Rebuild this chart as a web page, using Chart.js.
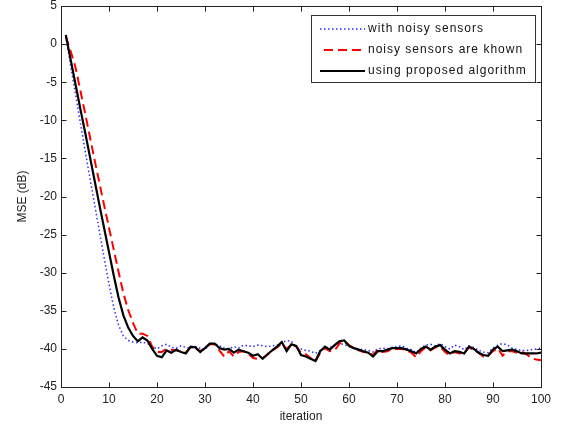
<!DOCTYPE html>
<html>
<head>
<meta charset="utf-8">
<script src="https://cdn.jsdelivr.net/npm/chart.js@4"></script>
<style>
  body { margin: 0; background: #fff; }
  #wrap { width: 564px; height: 430px; }
</style>
</head>
<body>
<div id="wrap"><canvas id="mse"></canvas></div>
<script>
/* ------------------
  data
-------------------*/
var iterations = [1,2,3,4,5,6,7,8,9,10,11,12,13,14,15,16,17,18,19,20,
  21,22,23,24,25,26,27,28,29,30,31,32,33,34,35,36,37,38,39,40,
  41,42,43,44,45,46,47,48,49,50,51,52,53,54,55,56,57,58,59,60,
  61,62,63,64,65,66,67,68,69,70,71,72,73,74,75,76,77,78,79,80,
  81,82,83,84,85,86,87,88,89,90,91,92,93,94,95,96,97,98,99,100];

var noisySensors = [1.0,-2.8,-6.5,-10.2,-13.9,-17.5,-21.0,-24.6,-28.1,-31.5,
  -34.6,-36.9,-38.3,-38.9,-39.1,-39.2,-39.1,-39.3,-39.7,-40.0,
  -39.6,-39.4,-39.8,-39.9,-39.6,-39.8,-39.9,-39.7,-39.9,-40.1,
  -39.4,-39.3,-39.6,-39.9,-40.0,-39.7,-39.9,-39.5,-39.6,-39.7,
  -39.5,-39.6,-39.7,-39.6,-39.5,-39.2,-38.9,-39.0,-39.8,-40.0,
  -40.2,-40.3,-40.6,-40.2,-39.9,-39.8,-39.6,-39.3,-39.4,-39.7,
  -39.9,-40.0,-40.1,-40.2,-40.4,-40.0,-39.9,-40.0,-39.8,-39.7,
  -39.6,-39.9,-40.1,-40.5,-39.9,-39.5,-39.4,-39.6,-39.3,-39.7,
  -40.0,-39.5,-39.7,-40.1,-39.6,-39.8,-40.2,-40.4,-40.5,-39.9,
  -39.5,-39.3,-39.5,-39.9,-40.1,-40.2,-40.2,-40.1,-40.0,-39.9];

var knownSensors = [1.0,-0.9,-3.0,-6.0,-9.0,-12.1,-15.2,-18.2,-21.2,-24.1,
  -27.0,-29.9,-32.7,-34.9,-36.6,-38.0,-38.0,-38.3,-39.7,-40.4,
  -40.4,-40.0,-40.1,-40.2,-40.3,-40.5,-39.8,-39.9,-40.3,-39.9,
  -39.4,-39.4,-40.2,-41.0,-40.3,-41.0,-40.4,-40.3,-40.6,-41.2,
  -41.3,-41.2,-40.8,-40.2,-39.8,-39.3,-40.0,-39.4,-39.7,-40.5,
  -40.7,-41.2,-41.7,-40.5,-39.9,-40.3,-40.2,-39.3,-39.0,-39.5,
  -39.9,-40.2,-40.4,-40.5,-40.8,-40.1,-40.4,-40.3,-40.0,-40.0,
  -40.0,-40.2,-40.5,-41.1,-40.3,-39.8,-40.2,-39.8,-39.7,-40.4,
  -40.8,-40.4,-40.6,-40.5,-39.8,-40.2,-40.5,-41.0,-40.8,-40.3,
  -39.9,-40.9,-40.3,-40.3,-40.5,-40.4,-40.7,-41.2,-41.4,-41.5];

var proposedAlg = [1.2,-2.0,-5.2,-8.4,-11.5,-14.7,-17.9,-21.1,-24.2,-27.3,
  -30.4,-33.3,-35.6,-37.2,-38.3,-39.0,-38.5,-38.9,-40.0,-40.9,
  -41.1,-40.2,-40.5,-40.1,-40.4,-40.6,-39.7,-39.8,-40.4,-39.9,
  -39.3,-39.3,-39.9,-40.1,-40.0,-40.5,-40.1,-40.3,-40.5,-40.9,
  -40.7,-41.3,-40.7,-40.2,-39.7,-39.1,-40.3,-39.4,-39.6,-40.8,
  -41.0,-41.3,-41.6,-40.3,-39.7,-40.1,-39.5,-39.0,-38.9,-39.6,
  -39.9,-40.1,-40.3,-40.5,-41.0,-40.3,-40.3,-40.1,-39.9,-39.9,
  -39.9,-40.1,-40.3,-40.6,-40.0,-39.7,-40.1,-39.7,-39.5,-40.1,
  -40.6,-40.3,-40.4,-40.6,-39.7,-40.0,-40.5,-40.8,-40.9,-40.1,
  -39.7,-40.3,-40.2,-40.1,-40.3,-40.6,-40.6,-40.6,-40.6,-40.5];

var seriesNames = ['with noisy sensors', 'noisy sensors are khown', 'using proposed algorithm'];
var xTicks = [0,10,20,30,40,50,60,70,80,90,100];
var yTicks = [-45,-40,-35,-30,-25,-20,-15,-10,-5,0,5];

function toPoints(vals) {
  return vals.map(function (v, i) { return { x: iterations[i], y: v }; });
}

/* ------------------
  matlab-ish box, inward ticks and legend
-------------------*/
var matlabBox = {
  id: 'matlabBox',
  afterDraw: function (chart) {
    var ctx = chart.ctx;
    var a = chart.chartArea;
    var xs = chart.scales.x, ys = chart.scales.y;
    var L = Math.round(a.left) + 0.5, R = Math.round(a.right) + 0.5;
    var T = Math.round(a.top) + 0.5, B = Math.round(a.bottom) + 0.5;
    ctx.save();
    ctx.strokeStyle = '#222';
    ctx.lineWidth = 1;
    ctx.strokeRect(L, T, R - L, B - T);
    ctx.beginPath();
    xTicks.forEach(function (t) {
      var px = Math.round(xs.getPixelForValue(t)) + 0.5;
      ctx.moveTo(px, B); ctx.lineTo(px, B - 5);
      ctx.moveTo(px, T); ctx.lineTo(px, T + 5);
    });
    yTicks.forEach(function (t) {
      var py = Math.round(ys.getPixelForValue(t)) + 0.5;
      ctx.moveTo(L, py); ctx.lineTo(L + 5, py);
      ctx.moveTo(R, py); ctx.lineTo(R - 5, py);
    });
    ctx.stroke();

    // legend
    var bx = 311.5, by = 15.5, bw = 224, bh = 67;
    ctx.fillStyle = '#fff';
    ctx.fillRect(bx, by, bw, bh);
    ctx.strokeStyle = '#333';
    ctx.strokeRect(bx, by, bw, bh);
    ctx.font = '12px "Liberation Sans", Arial, sans-serif';
    ctx.textBaseline = 'middle';
    ctx.fillStyle = '#111';
    var rows = [29, 50, 71];
    [0, 1, 2].forEach(function (di, r) {
      var ds = chart.data.datasets[di];
      ctx.save();
      ctx.strokeStyle = ds.borderColor;
      ctx.lineWidth = ds.borderWidth;
      ctx.setLineDash(ds.borderDash || []);
      ctx.beginPath();
      ctx.moveTo(di === 1 ? 324 : 320, rows[r]);
      ctx.lineTo(365, rows[r]);
      ctx.stroke();
      ctx.restore();
      ctx.save();
      ctx.letterSpacing = '1px';
      ctx.fillText(ds.label, 368, rows[r]);
      ctx.restore();
    });
    ctx.restore();
  }
};

/* ------------------
  line chart
-------------------*/
new Chart(document.getElementById('mse'), {
  type: 'line',
  data: {
    datasets: [
      {
        label: seriesNames[0],
        data: toPoints(noisySensors),
        borderColor: '#2b2bff',
        borderWidth: 1.5,
        borderDash: [1.5, 2.5],
        pointRadius: 0,
        order: 2
      },
      {
        label: seriesNames[1],
        data: toPoints(knownSensors),
        borderColor: '#ff0000',
        borderWidth: 2,
        borderDash: [9, 5],
        pointRadius: 0,
        order: 1
      },
      {
        label: seriesNames[2],
        data: toPoints(proposedAlg),
        borderColor: '#000000',
        borderWidth: 2.2,
        pointRadius: 0,
        order: 0
      }
    ]
  },
  options: {
    responsive: true,
    maintainAspectRatio: false,
    animation: false,
    layout: { padding: { left: 0, right: 23, top: 6, bottom: 0 } },
    plugins: {
      legend: { display: false },
      tooltip: { enabled: false }
    },
    scales: {
      x: {
        type: 'linear',
        min: 0, max: 100,
        afterFit: function (s) { s.height = 43; s.paddingLeft = 0; s.paddingRight = 0; },
        afterBuildTicks: function (s) { s.ticks = xTicks.map(function (v) { return { value: v }; }); },
        grid: { display: false, drawTicks: false },
        border: { display: false },
        ticks: { color: '#222', padding: 5, maxRotation: 0, font: { family: 'Liberation Sans', size: 12 } },
        title: { display: true, text: 'iteration', color: '#222', padding: { top: 6, bottom: 6 },
                 font: { family: 'Liberation Sans', size: 12 } }
      },
      y: {
        min: -45, max: 5,
        afterFit: function (s) { s.width = 61; s.paddingTop = 0; s.paddingBottom = 0; },
        afterBuildTicks: function (s) { s.ticks = yTicks.map(function (v) { return { value: v }; }); },
        grid: { display: false, drawTicks: false },
        border: { display: false },
        ticks: { color: '#222', padding: 4, font: { family: 'Liberation Sans', size: 12 } },
        title: { display: true, text: 'MSE (dB)', color: '#222', padding: { top: 15, bottom: 15 },
                 font: { family: 'Liberation Sans', size: 12 } }
      }
    }
  },
  plugins: [matlabBox]
});
</script>
</body>
</html>
